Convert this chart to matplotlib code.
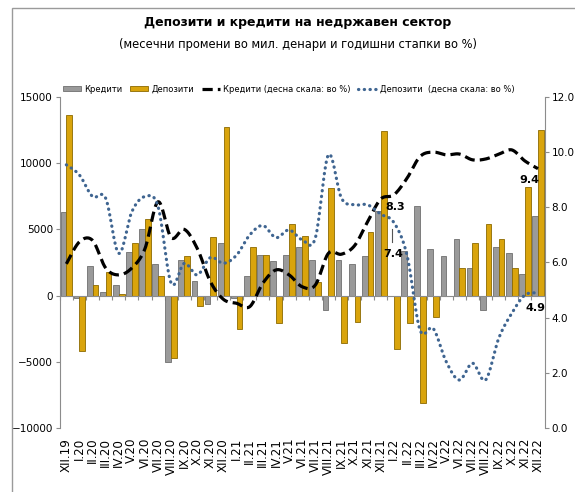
import matplotlib
matplotlib.use("Agg")
import matplotlib.pyplot as plt
from matplotlib.patches import Rectangle
import numpy as np

plt.rcParams['font.family'] = ['DejaVu Sans']

# months XII.19 .. XII.22
months = ['XII.19', 'I.20', 'II.20', 'III.20', 'IV.20', 'V.20', 'VI.20', 'VII.20',
          'VIII.20', 'IX.20', 'X.20', 'XI.20', 'XII.20', 'I.21', 'II.21', 'III.21',
          'IV.21', 'V.21', 'VI.21', 'VII.21', 'VIII.21', 'IX.21', 'X.21', 'XI.21',
          'XII.21', 'I.22', 'II.22', 'III.22', 'IV.22', 'V.22', 'VI.22', 'VII.22',
          'VIII.22', 'IX.22', 'X.22', 'XI.22', 'XII.22']

# monthly changes, mil. denars
credits_chg = [6300, -200, 2200, 300, 800, 3300, 5000, 2400, -5000, 2700, 1100, -600,
               4000, -200, 1500, 3100, 2600, 3100, 3700, 2700, -1100, 2700, 2400, 3000,
               6400, 0, 3400, 6800, 3500, 3000, 4300, 2100, -1100, 3700, 3200, 1600, 6000]
deposits_chg = [13600, -4200, 800, 1800, 100, 4000, 5800, 1500, -4700, 3000, -800, 4400,
                12700, -2500, 3700, 3100, -2100, 5400, 4500, 1000, 8100, -3600, -2000, 4800,
                12400, -4000, -2100, -8100, -1600, 0, 2100, 4000, 5400, 4300, 2100, 8200, 12500]

# annual growth rates, %
credits_rate = [5.95, 6.75, 6.8, 5.8, 5.55, 5.8, 6.5, 8.2, 6.9, 7.2, 6.5, 5.3,
                4.66, 4.52, 4.4, 5.25, 5.73, 5.55, 5.12, 5.18, 6.33, 6.3, 6.61, 7.48,
                8.3, 8.45, 9.05, 9.84, 10.0, 9.9, 9.93, 9.72, 9.75, 9.92, 10.08, 9.68, 9.4]
deposits_rate = [9.54, 9.17, 8.39, 8.33, 6.33, 7.84, 8.39, 8.03, 5.25, 5.97, 5.55, 6.18,
                 5.97, 6.27, 7.0, 7.34, 6.9, 7.18, 6.82, 6.88, 9.9, 8.33, 8.09, 8.09,
                 7.75, 7.45, 6.27, 3.55, 3.61, 2.4, 1.74, 2.35, 1.74, 3.25, 4.16, 4.82, 4.9]


def smooth(x, y, n=16):
    # catmull-rom curve through the points (like excel's smoothed line)
    x = np.asarray(x, float)
    y = np.asarray(y, float)
    xp = np.concatenate([[x[0]], x, [x[-1]]])
    yp = np.concatenate([[y[0]], y, [y[-1]]])
    t = np.linspace(0, 1, n, endpoint=False)[:, None]
    out = []
    for i in range(1, len(xp) - 2):
        p0 = np.array([xp[i - 1], yp[i - 1]])
        p1 = np.array([xp[i], yp[i]])
        p2 = np.array([xp[i + 1], yp[i + 1]])
        p3 = np.array([xp[i + 2], yp[i + 2]])
        m1 = (p2 - p0) / 2
        m2 = (p3 - p1) / 2
        h00 = 2 * t**3 - 3 * t**2 + 1
        h10 = t**3 - 2 * t**2 + t
        h01 = -2 * t**3 + 3 * t**2
        h11 = t**3 - t**2
        out.append(h00 * p1 + h10 * m1 + h01 * p2 + h11 * m2)
    out.append(np.array([[x[-1], y[-1]]]))
    pts = np.vstack(out)
    return pts[:, 0], pts[:, 1]


fig = plt.figure(figsize=(5.75, 4.92), dpi=100)
ax = fig.add_axes([0.104, 0.130, 0.843, 0.673])
ax2 = ax.twinx()

x = np.arange(len(months))
w = 0.44
b1 = ax.bar(x - w / 2, credits_chg, w, color='#9a9a9a', edgecolor='#6f6f6f',
            linewidth=0.6, label='Кредити')
b2 = ax.bar(x + w / 2, deposits_chg, w, color='#d9a40c', edgecolor='#8c6a00',
            linewidth=0.6, label='Депозити')

ax.set_xlim(-0.5, len(months) - 0.5)
ax.set_ylim(-10000, 15000)
ax.set_yticks([-10000, -5000, 0, 5000, 10000, 15000])
ax.axhline(0, color='#8c8c8c', lw=0.8, zorder=1)

for s in ['top', 'bottom', 'right']:
    ax.spines[s].set_visible(False)
ax.spines['left'].set_color('#8c8c8c')
ax.tick_params(axis='y', direction='out', length=3, color='#8c8c8c', labelsize=7.5, pad=2)
ax.set_xticks(x)
ax.set_xticklabels(months, rotation=90, fontsize=8.6)
ax.tick_params(axis='x', length=0, pad=7)

# category tick marks on the zero line
zx = ax.secondary_xaxis(0.4)
zx.set_xticks(np.arange(len(months) + 1) - 0.5)
zx.set_xticklabels([])
zx.tick_params(direction='out', length=3, color='#8c8c8c')
zx.spines['bottom'].set_visible(False)

xs, ys = smooth(x, credits_rate)
l1, = ax2.plot(xs, ys, color='black', lw=2.3, linestyle=(0, (3.2, 1.6)),
               label='Кредити (десна скала: во %)')
xs, ys = smooth(x, deposits_rate)
l2, = ax2.plot(xs, ys, color='#3f6591', lw=2.3, linestyle=(0, (0.1, 1.7)),
               dash_capstyle='round', label='Депозити  (десна скала: во %)')

ax2.set_ylim(0, 12)
ax2.set_yticks(np.arange(0, 13, 2))
ax2.set_yticklabels([f'{v:.1f}' for v in np.arange(0, 13, 2)])
for s in ['top', 'bottom', 'left']:
    ax2.spines[s].set_visible(False)
ax2.spines['right'].set_color('#8c8c8c')
ax2.tick_params(axis='y', direction='out', length=3, color='#8c8c8c', labelsize=7.5, pad=2)

# data labels
ax2.annotate('8.3', (24, credits_rate[24]), xytext=(14, -8), textcoords='offset pixels',
             ha='center', va='center', fontsize=8, fontweight='bold')
ax2.annotate('7.4', (24, deposits_rate[24]), xytext=(12, -40), textcoords='offset pixels',
             ha='center', va='center', fontsize=8, fontweight='bold')
ax2.plot([24.85, 24.85], [7.2, 6.75], color='#555555', lw=0.8)
ax2.annotate('9.4', (36, credits_rate[36]), xytext=(-9, -11), textcoords='offset pixels',
             ha='center', va='center', fontsize=8, fontweight='bold')
ax2.annotate('4.9', (36, deposits_rate[36]), xytext=(-2, -15), textcoords='offset pixels',
             ha='center', va='center', fontsize=8, fontweight='bold')

fig.legend([b1, b2, l1, l2], [b1.get_label(), b2.get_label(), l1.get_label(), l2.get_label()],
           loc='center', bbox_to_anchor=(0.502, 0.819), ncol=4, frameon=False,
           fontsize=6, handlelength=2.2, handleheight=0.5, handletextpad=0.4,
           columnspacing=0.9)

fig.text(0.518, 0.955, 'Депозити и кредити на недржавен сектор', ha='center', va='center',
         fontsize=9, fontweight='bold')
fig.text(0.518, 0.909, '(месечни промени во мил. денари и годишни стапки во %)',
         ha='center', va='center', fontsize=8.3)

fig.patches.append(Rectangle((12 / 575, -0.02), 1.0, (492 - 8) / 492 + 0.02,
                             transform=fig.transFigure, fill=False,
                             edgecolor='#9a9a9a', lw=1.0))

fig.savefig('out.png', dpi=100)
